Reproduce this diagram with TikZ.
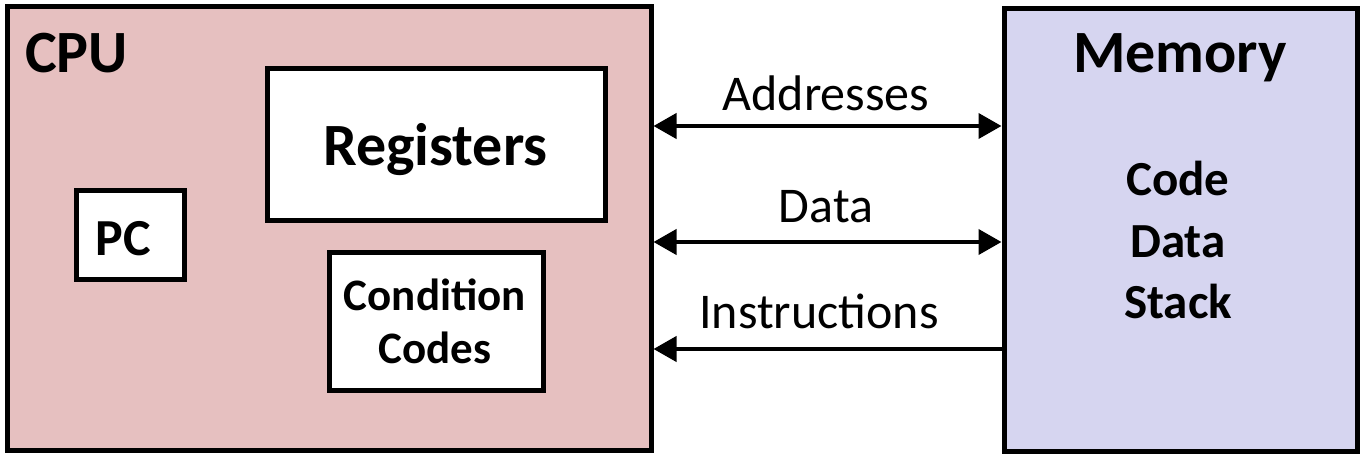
\documentclass[tikz,border=0pt]{standalone}
\usepackage{fontspec}
\setmainfont{Carlito}
\usetikzlibrary{arrows.meta}
\definecolor{cpupink}{RGB}{230,192,192}
\definecolor{memlav}{RGB}{214,213,240}
\tikzset{
  unitbox/.style={draw=black, line width=5pt, inner sep=0pt, rectangle},
  whitebox/.style={unitbox, fill=white},
  bigbold/.style={font=\fontsize{60}{72}\selectfont\bfseries, anchor=base, inner sep=0pt},
  lbl/.style={font=\fontsize{50}{60}\selectfont, anchor=base, inner sep=0pt},
  bus/.style={line width=4pt, {Triangle[length=23pt,width=25pt]}-{Triangle[length=23pt,width=25pt]}},
  inbus/.style={line width=4pt, {Triangle[length=23pt,width=25pt]}-},
}
\begin{document}
\begin{tikzpicture}[x=1pt,y=-1pt]
\useasboundingbox (0,0) rectangle (1364,460);
% main boxes
\node[unitbox, fill=cpupink, minimum width=644pt, minimum height=443pt] (cpu) at (329,228.5) {};
\node[unitbox, fill=memlav, minimum width=353pt, minimum height=442.5pt] (mem) at (1180.5,229.75) {};
% inner boxes
\node[whitebox, minimum width=337.5pt, minimum height=152pt] (reg) at (436.25,144) {};
\node[whitebox, minimum width=108pt, minimum height=88.5pt] (pc) at (130,234.75) {};
\node[whitebox, minimum width=213.5pt, minimum height=137.5pt] (cc) at (436.25,321.25) {};
% texts
\node[bigbold, anchor=base west] (cputxt) at (25,72) {CPU};
\node[bigbold] (memtxt) at (1180,73) {Memory};
\node[bigbold] (regtxt) at (435.5,165) {Registers};
\node[font=\fontsize{52}{60}\selectfont\bfseries, anchor=base, inner sep=0pt] (pctxt) at (123,255) {PC};
\node[font=\fontsize{45}{53}\selectfont\bfseries, anchor=base, inner sep=0pt] (cc1) at (435,310) {Condition};
\node[font=\fontsize{45}{53}\selectfont\bfseries, anchor=base, inner sep=0pt] (cc2) at (435,363) {Codes};
\node[font=\fontsize{49}{60}\selectfont\bfseries, anchor=base, inner sep=0pt] (m1) at (1178,195) {Code};
\node[font=\fontsize{49}{60}\selectfont\bfseries, anchor=base, inner sep=0pt] (m2) at (1178,257) {Data};
\node[font=\fontsize{49}{60}\selectfont\bfseries, anchor=base, inner sep=0pt] (m3) at (1178,318) {Stack};
% bus labels
\node[lbl] (addrtxt) at (826,110) {Addresses};
\node[lbl] (datatxt) at (826,222) {Data};
\node[lbl] (insttxt) at (819,328) {Instructions};
% connectors
\coordinate (yaddr) at (0,126);
\coordinate (ydata) at (0,242);
\coordinate (yinst) at (0,349);
\draw[bus] (cpu.east |- yaddr) -- (mem.west |- yaddr);
\draw[bus] (cpu.east |- ydata) -- (mem.west |- ydata);
\draw[inbus] (cpu.east |- yinst) -- (mem.west |- yinst);
\end{tikzpicture}
\end{document}
